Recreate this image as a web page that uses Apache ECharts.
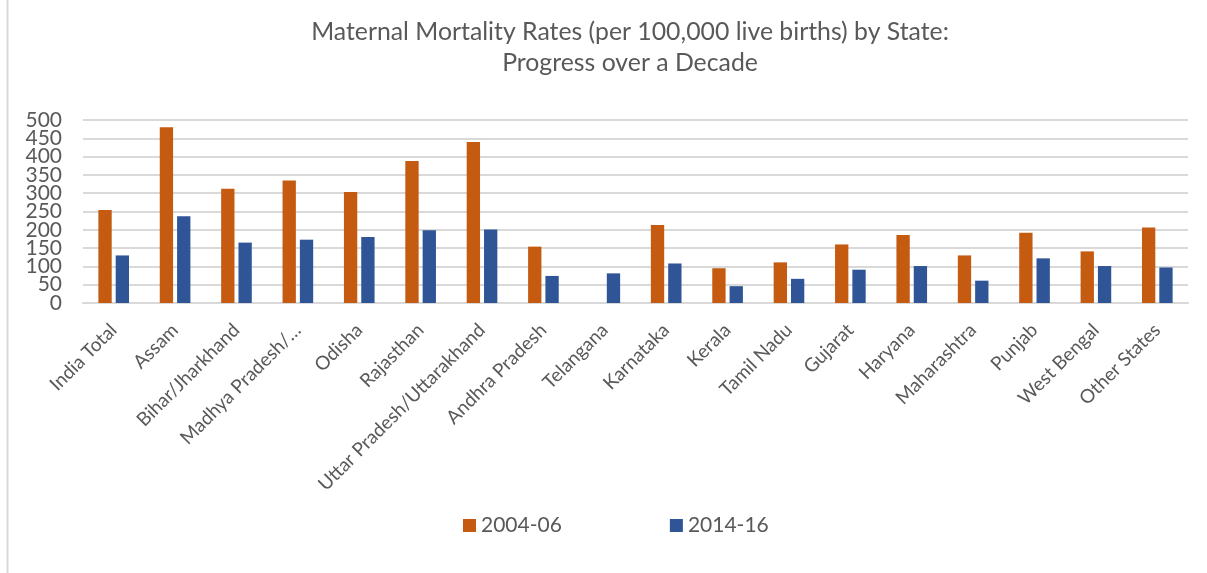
<!DOCTYPE html>
<html>
<head>
<meta charset="utf-8">
<script src="https://cdn.jsdelivr.net/npm/echarts@6/dist/echarts.min.js"></script>
<style>
  html, body { margin: 0; padding: 0; background: #fff; }
  #chart { width: 1207px; height: 573px; }
</style>
</head>
<body>
<div id="chart"></div>
<script>
const states = [
  'India Total', 'Assam', 'Bihar/Jharkhand', 'Madhya Pradesh/…', 'Odisha',
  'Rajasthan', 'Uttar Pradesh/Uttarakhand', 'Andhra Pradesh', 'Telangana',
  'Karnataka', 'Kerala', 'Tamil Nadu', 'Gujarat', 'Haryana', 'Maharashtra',
  'Punjab', 'West Bengal', 'Other States'
];
const mmr2004 = [254, 480, 312, 335, 303, 388, 440, 154, null, 213, 95, 111, 160, 186, 130, 192, 141, 206];
const mmr2014 = [130, 237, 165, 173, 180, 199, 201, 74, 81, 108, 46, 66, 91, 101, 61, 122, 101, 97];
const seriesNames = ['2004-06', '2014-16'];
const yMax = 500;
const yStep = 50;

const textColor = '#595959';
const font = 'Lato, "Open Sans", sans-serif';

const chart = echarts.init(document.getElementById('chart'));

const yLabel = { color: textColor, fontSize: 21, margin: 21, hideOverlap: false };

chart.setOption({
  animation: false,
  textStyle: { fontFamily: font },
  title: {
    text: 'Maternal Mortality Rates (per 100,000 live births) by State:\nProgress over a Decade',
    left: 625,
    textAlign: 'center',
    top: 12,
    textStyle: { color: textColor, fontSize: 24.8, fontWeight: 'normal', lineHeight: 31, fontFamily: font }
  },
  graphic: [
    { type: 'line', shape: { x1: 7.5, y1: 0, x2: 7.5, y2: 573 }, style: { stroke: '#d9d9d9', lineWidth: 2 } }
  ],
  legend: {
    left: 458,
    top: 510,
    itemWidth: 13,
    itemHeight: 13,
    itemGap: 108,
    icon: 'rect',
    textStyle: { color: textColor, fontSize: 21, fontFamily: font },
    data: seriesNames
  },
  grid: { left: 83, right: 19, top: 120, bottom: 270 },
  xAxis: {
    type: 'category',
    data: states,
    axisLine: { show: true, lineStyle: { color: '#d9d9d9', width: 2 } },
    axisTick: { show: false },
    axisLabel: {
      interval: 0,
      rotate: 45,
      color: textColor,
      fontSize: 19,
      margin: 24
    }
  },
  yAxis: [
    {
      // inner ticks 50..450 with gridlines
      type: 'value',
      min: 0,
      max: yMax,
      interval: yStep,
      position: 'left',
      axisLine: { show: false },
      axisTick: { show: false },
      axisLabel: Object.assign({ showMinLabel: false, showMaxLabel: false }, yLabel),
      splitLine: { lineStyle: { color: '#d9d9d9', width: 2 } }
    },
    {
      // end labels 0 and 500
      type: 'value',
      min: 0,
      max: yMax,
      interval: yMax,
      position: 'left',
      axisLine: { show: false },
      axisTick: { show: false },
      axisLabel: Object.assign({ showMinLabel: true, showMaxLabel: true }, yLabel),
      splitLine: { show: false }
    }
  ],
  series: [
    {
      name: seriesNames[0],
      type: 'bar',
      data: mmr2004,
      barWidth: '21.7%',
      barGap: '30%',
      itemStyle: { color: '#C55A11' }
    },
    {
      name: seriesNames[1],
      type: 'bar',
      data: mmr2014,
      barWidth: '21.7%',
      barGap: '30%',
      itemStyle: { color: '#2F5597' }
    }
  ]
});
</script>
</body>
</html>
